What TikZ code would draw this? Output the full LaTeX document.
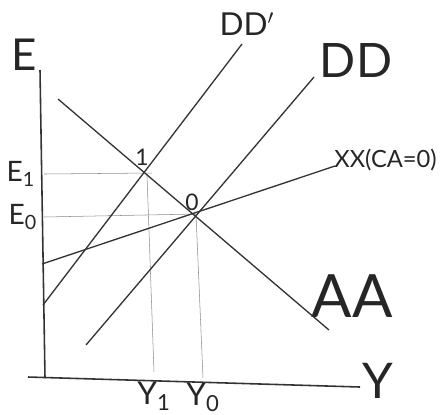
\documentclass[tikz,border=0pt]{standalone}
\usepackage{fontspec}
\setmainfont{Lato}
\usepackage{tikz}
\usetikzlibrary{arrows}
\tikzstyle{curve} = [line width=0.75pt, draw=black!80]
\tikzstyle{guide} = [line width=0.3pt, draw=black!45]
\tikzstyle{lbl} = [inner sep=0pt, text=black!85]

\begin{document}
\begin{tikzpicture}[x=0.02cm, y=-0.02cm]
        % Bounding box
        \useasboundingbox (0,0) rectangle (442,414);

        % Axis ends
        \coordinate (etop) at (40,70);
        \coordinate (ebot) at (45,378);
        \coordinate (yleft) at (28,377);
        \coordinate (yright) at (360,387);

        % Curve ends
        \coordinate (ddpa) at (43,305);
        \coordinate (ddpb) at (242,44);
        \coordinate (dda) at (86,345);
        \coordinate (ddb) at (314,77);
        \coordinate (aaa) at (58,99);
        \coordinate (aab) at (329,330);
        \coordinate (xxa) at (42,264);
        \coordinate (xxb) at (335,166);

        % Equilibria
        \coordinate (p1) at (145,173);
        \coordinate (p0) at (196,214);
        \coordinate (e1) at (44,174);
        \coordinate (e0) at (44,217);
        \coordinate (y1) at (154,372);
        \coordinate (y0) at (203,378);

        % Labels
        \node[lbl, font=\fontsize{25}{25}\selectfont] (elab) at (24,55) {E};
        \node[lbl, font=\fontsize{28}{28}\selectfont] (ylab) at (378,381) {Y};
        \node[lbl, font=\fontsize{18}{18}\selectfont] (ddplab) at (247,24) {DD$'$};
        \node[lbl, font=\fontsize{27}{27}\selectfont] (ddlab) at (356,60) {DD};
        \node[lbl, font=\fontsize{34}{34}\selectfont] (aalab) at (352,296) {AA};
        \node[lbl, font=\fontsize{13.5}{13.5}\selectfont, anchor=west] (xxlab) at (334,160) {XX(CA=0)};
        \node[lbl, font=\fontsize{13}{13}\selectfont] (onelab) at (142,157) {1};
        \node[lbl, font=\fontsize{13}{13}\selectfont] (zerolab) at (192,202) {0};
        \node[lbl, font=\fontsize{16}{16}\selectfont] (e1lab) at (21,174) {E\textsubscript{1}};
        \node[lbl, font=\fontsize{16}{16}\selectfont] (e0lab) at (23,217) {E\textsubscript{0}};
        \node[lbl, font=\fontsize{18}{18}\selectfont] (y1lab) at (154,396) {Y\textsubscript{1}};
        \node[lbl, font=\fontsize{18}{18}\selectfont] (y0lab) at (203,397) {Y\textsubscript{0}};

        % Axes
        \draw[line width=0.9pt, draw=black!80] (etop) -- (ebot);
        \draw[line width=0.9pt, draw=black!80] (yleft) -- (yright);

        % Guides
        \draw[guide] (e1) -- (152,173);
        \draw[guide] (e0) -- (p0);
        \draw[guide] (147,175) -- (y1);
        \draw[guide] (p0) -- (y0);

        % Curves
        \draw[curve] (ddpa) -- (ddpb);   % DD'
        \draw[curve] (dda) -- (ddb);     % DD
        \draw[curve] (aaa) -- (aab);     % AA
        \draw[curve] (xxa) -- (xxb);     % XX

\end{tikzpicture}
\end{document}
